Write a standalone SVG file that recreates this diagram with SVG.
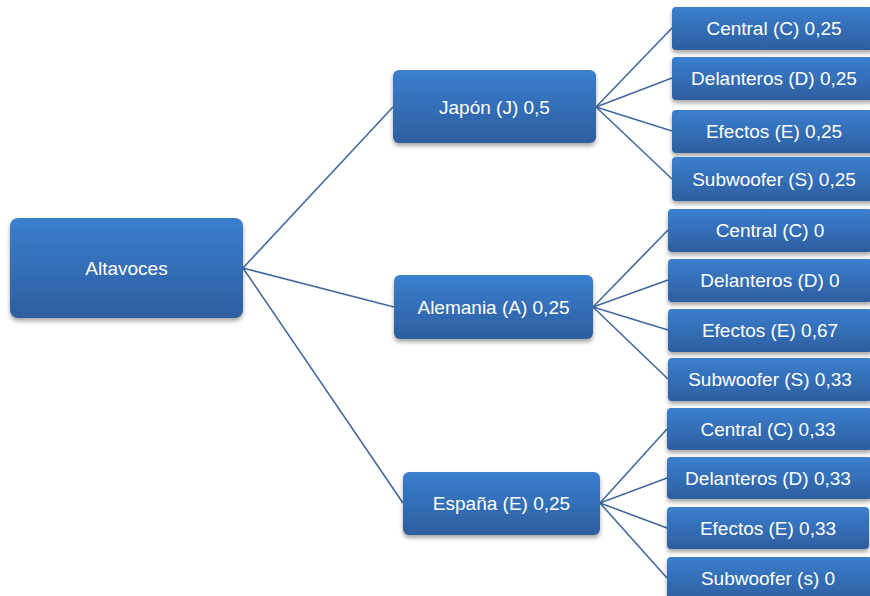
<svg xmlns="http://www.w3.org/2000/svg" width="870" height="596" viewBox="0 0 870 596">
<defs>
<linearGradient id="g" x1="0" y1="0" x2="0" y2="1">
<stop offset="0" stop-color="#3b7fcf"/>
<stop offset="1" stop-color="#2d5e9f"/>
</linearGradient>
<filter id="sh" x="-10%" y="-20%" width="120%" height="150%">
<feDropShadow dx="0" dy="3" stdDeviation="2.2" flood-color="#000" flood-opacity="0.35"/>
</filter>
<style>
.b{fill:url(#g);filter:url(#sh)}
.t{fill:#fff;font-family:"Liberation Sans",Arial,sans-serif;font-size:19px;text-anchor:middle}
.c{stroke:#41699f;stroke-width:1.6;fill:none}
</style>
</defs>
<rect width="870" height="596" fill="#fff"/>
<g id="connectors">
<line class="c" x1="243" y1="268" x2="393" y2="107"/>
<line class="c" x1="243" y1="268" x2="394" y2="307"/>
<line class="c" x1="243" y1="268" x2="403" y2="503"/>
<line class="c" x1="596" y1="107" x2="672" y2="28"/>
<line class="c" x1="596" y1="107" x2="672" y2="78"/>
<line class="c" x1="596" y1="107" x2="672" y2="131"/>
<line class="c" x1="596" y1="107" x2="672" y2="179"/>
<line class="c" x1="593" y1="307" x2="668" y2="230"/>
<line class="c" x1="593" y1="307" x2="668" y2="280"/>
<line class="c" x1="593" y1="307" x2="668" y2="330"/>
<line class="c" x1="593" y1="307" x2="668" y2="379"/>
<line class="c" x1="600" y1="503" x2="667" y2="429"/>
<line class="c" x1="600" y1="503" x2="667" y2="478"/>
<line class="c" x1="600" y1="503" x2="667" y2="528"/>
<line class="c" x1="600" y1="503" x2="667" y2="578"/>
</g>
<g id="altavoces"><rect class="b" x="10" y="218" width="233" height="100" rx="8"/><text class="t" x="126.5" y="274.5">Altavoces</text></g>
<g id="japon"><rect class="b" x="393" y="70" width="203" height="73" rx="6"/><text class="t" x="494.5" y="113.5">Japón (J) 0,5</text></g>
<g id="alemania"><rect class="b" x="394" y="275" width="199" height="64" rx="6"/><text class="t" x="493.5" y="313.5">Alemania (A) 0,25</text></g>
<g id="espana"><rect class="b" x="403" y="472" width="197" height="63" rx="6"/><text class="t" x="501.5" y="509.5">España (E) 0,25</text></g>
<g id="j-central"><rect class="b" x="672" y="7" width="202" height="43" rx="4"/><text class="t" x="774" y="34.5">Central (C) 0,25</text></g>
<g id="j-delanteros"><rect class="b" x="672" y="57" width="202" height="43" rx="4"/><text class="t" x="774" y="84.5">Delanteros (D) 0,25</text></g>
<g id="j-efectos"><rect class="b" x="672" y="110" width="202" height="43" rx="4"/><text class="t" x="774" y="137.5">Efectos (E) 0,25</text></g>
<g id="j-subwoofer"><rect class="b" x="672" y="157" width="202" height="44" rx="4"/><text class="t" x="774" y="185.5">Subwoofer (S) 0,25</text></g>
<g id="a-central"><rect class="b" x="668" y="209" width="204" height="43" rx="4"/><text class="t" x="770" y="236.5">Central (C) 0</text></g>
<g id="a-delanteros"><rect class="b" x="668" y="259" width="204" height="43" rx="4"/><text class="t" x="770" y="286.5">Delanteros (D) 0</text></g>
<g id="a-efectos"><rect class="b" x="668" y="309" width="204" height="43" rx="4"/><text class="t" x="770" y="336.5">Efectos (E) 0,67</text></g>
<g id="a-subwoofer"><rect class="b" x="668" y="358" width="204" height="43" rx="4"/><text class="t" x="770" y="385.5">Subwoofer (S) 0,33</text></g>
<g id="e-central"><rect class="b" x="667" y="408" width="205" height="42" rx="4"/><text class="t" x="768" y="435.5">Central (C) 0,33</text></g>
<g id="e-delanteros"><rect class="b" x="667" y="457" width="205" height="42" rx="4"/><text class="t" x="768" y="484.5">Delanteros (D) 0,33</text></g>
<g id="e-efectos"><rect class="b" x="667" y="507" width="202" height="42" rx="4"/><text class="t" x="768" y="534.5">Efectos (E) 0,33</text></g>
<g id="e-subwoofer"><rect class="b" x="667" y="557" width="205" height="44" rx="4"/><text class="t" x="768" y="584.5">Subwoofer (s) 0</text></g>
</svg>
